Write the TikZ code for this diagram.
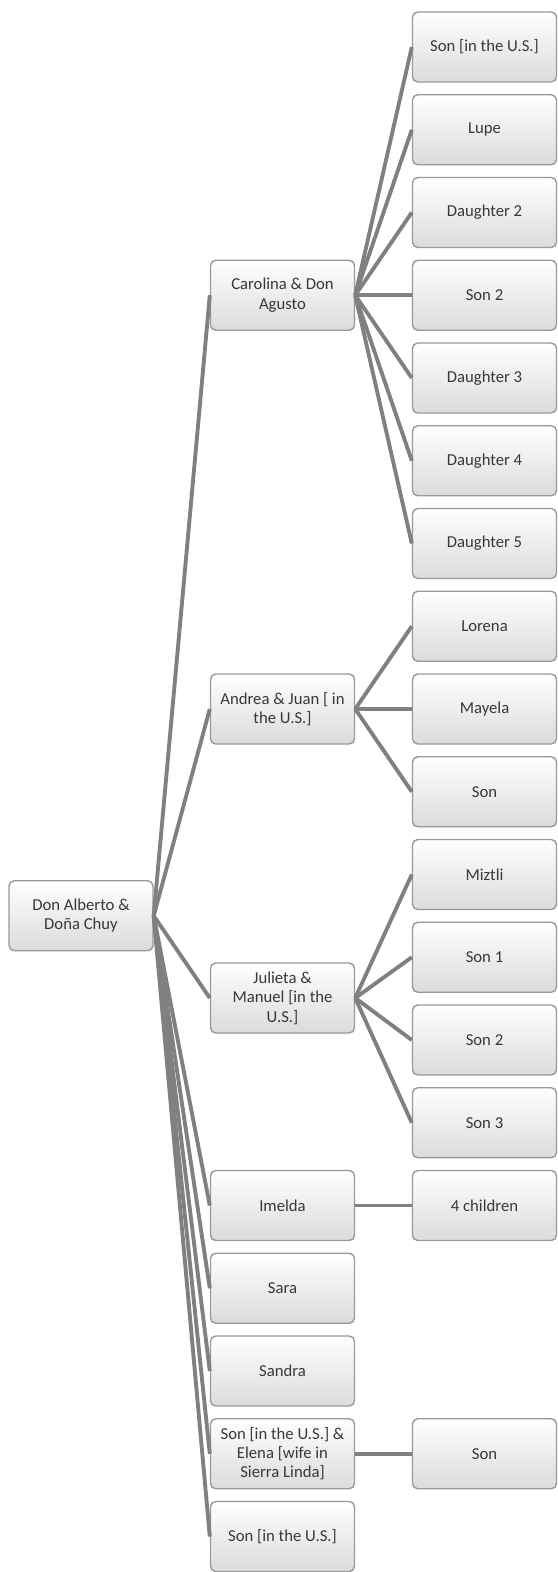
\documentclass[tikz,border=0pt]{standalone}
\usepackage{fontspec}
\setmainfont{Carlito}
\usepackage{xcolor}
\usetikzlibrary{positioning}

\begin{document}
\begin{tikzpicture}[
  person/.style={
    rectangle, rounded corners=3pt,
    draw=black!40, line width=0.8pt,
    top color=white, bottom color=black!14,
    minimum width=2.88cm, minimum height=1.4cm,
    align=center, text=black!78,
    font=\fontsize{9.5}{11}\selectfont
  },
  link/.style={black!50, line width=2.2pt}
]
\useasboundingbox (0,0) rectangle (11.14,-31.44);

% ---- Root ----
\node[person] (alberto) at (1.62,-18.315) {Don Alberto \&\\Doña Chuy};

% ---- Children ----
\node[person] (carolina) at (5.65,-5.905)  {Carolina \& Don\\Agusto};
\node[person] (andrea)   at (5.65,-14.18)  {Andrea \& Juan [ in\\the U.S.]};
\node[person] (julieta)  at (5.65,-19.96)  {Julieta \&\\Manuel [in the\\U.S.]};
\node[person] (imelda)   at (5.65,-24.11)  {Imelda};
\node[person] (sara)     at (5.65,-25.765) {Sara};
\node[person] (sandra)   at (5.65,-27.42)  {Sandra};
\node[person] (sonelena) at (5.65,-29.075) {Son [in the U.S.] \&\\Elena [wife in\\Sierra Linda]};
\node[person] (sonus)    at (5.65,-30.73)  {Son [in the U.S.]};

% ---- Grandchildren ----
\node[person] (c1) at (9.69,-0.94)   {Son [in the U.S.]};
\node[person] (c2) at (9.69,-2.595)  {Lupe};
\node[person] (c3) at (9.69,-4.25)   {Daughter 2};
\node[person] (c4) at (9.69,-5.905)  {Son 2};
\node[person] (c5) at (9.69,-7.56)   {Daughter 3};
\node[person] (c6) at (9.69,-9.215)  {Daughter 4};
\node[person] (c7) at (9.69,-10.87)  {Daughter 5};

\node[person] (a1) at (9.69,-12.525) {Lorena};
\node[person] (a2) at (9.69,-14.18)  {Mayela};
\node[person] (a3) at (9.69,-15.835) {Son};

\node[person] (j1) at (9.69,-17.49)  {Miztli};
\node[person] (j2) at (9.69,-19.145) {Son 1};
\node[person] (j3) at (9.69,-20.80)  {Son 2};
\node[person] (j4) at (9.69,-22.455) {Son 3};

\node[person] (i1) at (9.69,-24.11)  {4 children};
\node[person] (e1) at (9.69,-29.075) {Son};

% ---- Links ----
\foreach \kid in {carolina,andrea,julieta,imelda,sara,sandra,sonelena,sonus}
  \draw[link] (alberto.east) -- (\kid.west);

\foreach \kid in {c1,c2,c3,c4,c5,c6,c7}
  \draw[link] (carolina.east) -- (\kid.west);
\foreach \kid in {a1,a2,a3}
  \draw[link] (andrea.east) -- (\kid.west);
\foreach \kid in {j1,j2,j3,j4}
  \draw[link] (julieta.east) -- (\kid.west);
\draw[link] (imelda.east)   -- (i1.west);
\draw[link] (sonelena.east) -- (e1.west);

\end{tikzpicture}
\end{document}
